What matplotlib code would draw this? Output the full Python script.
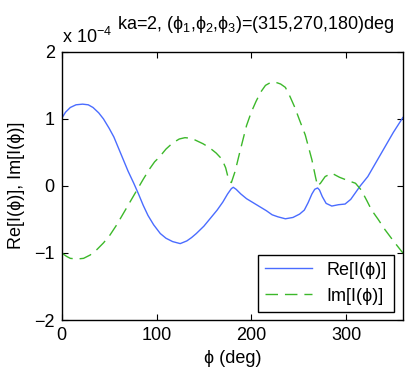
import matplotlib.pyplot as plt

plt.rcParams['font.family'] = ['Liberation Sans', 'DejaVu Sans']
plt.rcParams['mathtext.fontset'] = 'custom'
plt.rcParams['mathtext.rm'] = 'Liberation Sans'
plt.rcParams['mathtext.it'] = 'Liberation Sans'
plt.rcParams['mathtext.sf'] = 'Liberation Sans'
plt.rcParams['mathtext.fallback'] = 'stixsans'

# values, y in units of 1e-4
phi_re = [0, 4, 9, 15, 22, 28, 33, 39, 44, 50, 55, 60, 65, 70, 76, 81, 86, 91, 97, 104, 110,
          117, 125, 132, 137, 142, 150, 157, 164, 170, 175, 179, 181, 184, 189, 195, 202, 209,
          216, 222, 228, 236, 244, 251, 256, 260, 264, 267, 270, 272, 275, 279, 285, 292, 299,
          305, 310, 315, 323, 332, 341, 350, 355, 360]
re_vals = [1.01, 1.10, 1.17, 1.21, 1.22, 1.21, 1.17, 1.09, 1.00, 0.86, 0.73, 0.56, 0.39, 0.22,
           0.04, -0.12, -0.29, -0.44, -0.58, -0.71, -0.78, -0.83, -0.86, -0.82, -0.77, -0.71,
           -0.60, -0.48, -0.36, -0.24, -0.12, -0.04, -0.02, -0.05, -0.12, -0.19, -0.25, -0.31,
           -0.37, -0.43, -0.46, -0.49, -0.47, -0.42, -0.36, -0.25, -0.12, -0.05, -0.03, -0.06,
           -0.16, -0.26, -0.30, -0.28, -0.27, -0.20, -0.10, 0.0, 0.14, 0.36, 0.58, 0.80, 0.91,
           1.02]

phi_im = [0, 5, 9, 16, 23, 30, 37, 44, 51, 58, 65, 72, 79, 86, 93, 98, 103, 110, 117, 124,
          130, 137, 143, 149, 156, 163, 169, 173, 176, 179, 183, 188, 195, 200, 205, 210, 215,
          220, 225, 231, 236, 241, 246, 251, 257, 264, 268, 270, 273, 278, 285, 293, 302, 310,
          316, 322, 327, 334, 341, 350, 355, 360]
im_vals = [-1.0, -1.05, -1.08, -1.09, -1.08, -1.03, -0.95, -0.85, -0.73, -0.58, -0.41, -0.24,
           -0.07, 0.10, 0.26, 0.36, 0.43, 0.55, 0.64, 0.70, 0.72, 0.71, 0.67, 0.63, 0.57, 0.49,
           0.40, 0.27, 0.10, 0.05, 0.22, 0.51, 0.90, 1.10, 1.26, 1.40, 1.50, 1.54, 1.55, 1.52,
           1.47, 1.33, 1.17, 0.98, 0.76, 0.39, 0.12, 0.0, 0.04, 0.14, 0.19, 0.13, 0.08, 0.04,
           -0.06, -0.22, -0.36, -0.50, -0.65, -0.82, -0.91, -1.0]

fig = plt.figure(figsize=(4.09, 3.73), dpi=100)
ax = fig.add_axes([0.151, 0.142, 0.834, 0.719])

ax.plot(phi_re, re_vals, color='#4a6cff', lw=1.0, label='Re[I(ϕ)]')
ax.plot(phi_im, im_vals, color='#3cb82a', lw=1.0, dashes=(9, 5), label='Im[I(ϕ)]')

ax.set_xlim(0, 360)
ax.set_ylim(-2, 2)
ax.set_xticks([0, 100, 200, 300])
ax.set_yticks([-2, -1, 0, 1, 2])
ax.tick_params(direction='in', length=4, labelsize=13, top=True, right=True, pad=5)
for s in ax.spines.values():
    s.set_linewidth(1.0)

fig.text(0.5 * (0.151 + 0.985), 0.040, 'ϕ (deg)', ha='center', va='center', fontsize=13)
fig.text(17 / 409, 0.504, 'Re[I(ϕ)], Im[I(ϕ)]', rotation=90, ha='center', va='center', fontsize=13)
fig.text(62 / 409, 1 - 43 / 373, r'x 10$^{-4}$', fontsize=13, va='baseline')
fig.text(117 / 409, 1 - 29 / 373, r'ka=2, ($\phi_1$,$\phi_2$,$\phi_3$)=(315,270,180)deg',
         fontsize=13, va='baseline')

leg = ax.legend(loc='lower right', bbox_to_anchor=(394 / 409, 1 - 312 / 373),
                bbox_transform=fig.transFigure, borderaxespad=0, fancybox=False,
                edgecolor='black', fontsize=13, handlelength=2.6, framealpha=1)
leg.get_frame().set_linewidth(1.0)

plt.savefig('out.png', dpi=100)
